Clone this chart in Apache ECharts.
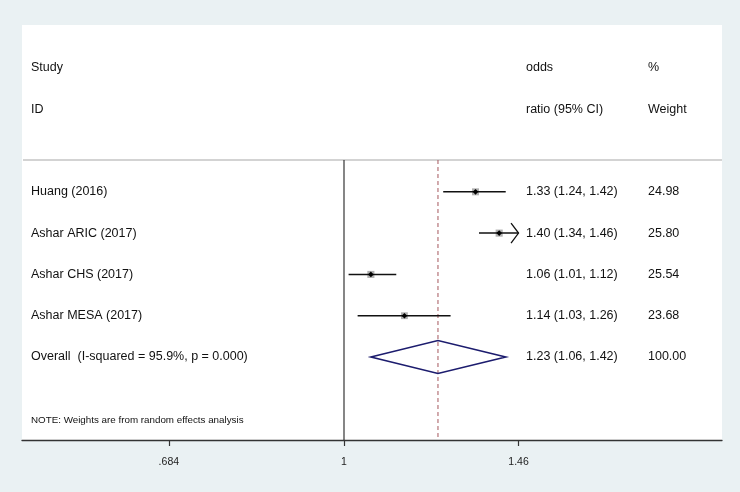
<!DOCTYPE html>
<html>
<head>
<meta charset="utf-8">
<script src="https://cdn.jsdelivr.net/npm/echarts@6/dist/echarts.min.js"></script>
<style>html,body{margin:0;padding:0;background:#eaf1f3;}#chart{width:740px;height:492px;}</style>
</head>
<body>
<div id="chart"></div>
<script>
// ---- data ----
const studies = ['Huang (2016)', 'Ashar ARIC (2017)', 'Ashar CHS (2017)', 'Ashar MESA (2017)'];
const oddsRatio = [1.33, 1.40, 1.06, 1.14];
const ciLow = [1.24, 1.34, 1.01, 1.03];
const ciHigh = [1.42, 1.46, 1.12, 1.26];
const weights = [24.98, 25.80, 25.54, 23.68];
const overallLabel = ['Overall  (I-squared = 95.9%, p = 0.000)'];
const overallOR = [1.226];
const overallLow = [1.06];
const overallHigh = [1.42];
const overallWeight = [100.00];
const headerCols = [['Study', 'ID'], ['odds', 'ratio (95% CI)'], ['%', 'Weight']];
const noteText = ['NOTE: Weights are from random effects analysis'];
const tickValues = [0.684, 1, 1.46];
const tickLabels = ['.684', '1', '1.46'];

// ---- layout ----
const FONT = '"Liberation Sans", Arial, Helvetica, sans-serif';
const colX = [31, 526, 648];
const pxPerLn = 461.2;
const nullPx = 344, gridL = 22, gridR = 722;
const LN_MIN = (gridL - nullPx) / pxPerLn;
const LN_MAX = (gridR - nullPx) / pxPerLn;
const tickLn = tickValues.map(v => Math.log(v));
const clipHi = Math.log(tickValues[tickValues.length - 1]);
const rowHeader1 = 1, rowHeader2 = 2, rowSep = 3.23, rowFirst = 4, rowNote = 9.54, rowBottom = 10.01;
const rowOverall = rowFirst + studies.length;

const chart = echarts.init(document.getElementById('chart'), null, {renderer: 'canvas'});

function txt(x, y, s, size) {
  return {type: 'text', style: {x: x, y: y, text: s, font: size + 'px ' + FONT, fill: '#111', align: 'left', verticalAlign: 'middle'}};
}

const option = {
  backgroundColor: '#eaf1f3',
  animation: false,
  grid: {left: gridL, right: 740 - gridR, top: 25, bottom: 52, show: true, backgroundColor: '#ffffff', borderWidth: 0},
  xAxis: {
    type: 'value', min: LN_MIN, max: LN_MAX,
    axisLine: {show: true, onZero: false, lineStyle: {color: '#333', width: 1.3}},
    axisTick: {show: true, length: 6, customValues: tickLn, lineStyle: {color: '#333', width: 1.2}},
    axisLabel: {
      customValues: tickLn, fontSize: 10.5, color: '#222', margin: 17, fontFamily: FONT,
      formatter: function (v) {
        let best = 0;
        tickLn.forEach((t, i) => { if (Math.abs(t - v) < Math.abs(tickLn[best] - v)) best = i; });
        return tickLabels[best];
      }
    },
    splitLine: {show: false}
  },
  yAxis: {type: 'value', inverse: true, min: -0.04, max: rowBottom, show: false},
  series: [
    // reference lines
    {
      type: 'custom', clip: false, data: [[0]],
      renderItem: function (params, api) {
        const ySep = api.coord([0, rowSep])[1];
        const yBot = api.coord([0, rowBottom])[1];
        const xNull = api.coord([0, 0])[0];
        const xOv = api.coord([Math.log(overallOR[0]), 0])[0];
        return {type: 'group', children: [
          {type: 'line', shape: {x1: gridL + 1, y1: ySep, x2: gridR, y2: ySep}, style: {stroke: '#c4c4c4', lineWidth: 1.5}},
          {type: 'line', shape: {x1: xNull, y1: ySep, x2: xNull, y2: yBot}, style: {stroke: '#222', lineWidth: 1.1}},
          {type: 'line', shape: {x1: xOv, y1: ySep, x2: xOv, y2: yBot}, style: {stroke: '#a5565c', lineWidth: 1, lineDash: [4, 3]}}
        ]};
      }
    },
    // study CIs
    {
      type: 'custom', clip: false, data: studies.map((s, i) => [i]),
      renderItem: function (params, api) {
        const i = api.value(0);
        const row = rowFirst + i;
        const lo = Math.log(ciLow[i]);
        let hi = Math.log(ciHigh[i]);
        const arrow = hi >= clipHi - 1e-9;
        if (arrow) hi = clipHi;
        const pLo = api.coord([lo, row]);
        const pHi = api.coord([hi, row]);
        const pt = api.coord([Math.log(oddsRatio[i]), row]);
        const box = 7 * Math.sqrt(weights[i] / 25);
        const ch = [
          {type: 'rect', shape: {x: pt[0] - box / 2, y: pt[1] - box / 2, width: box, height: box}, style: {fill: '#b0b0b0'}},
          {type: 'line', shape: {x1: pLo[0], y1: pLo[1], x2: pHi[0], y2: pHi[1]}, style: {stroke: '#111', lineWidth: 1.5}},
          {type: 'polygon', shape: {points: [[pt[0] - 2.8, pt[1]], [pt[0], pt[1] - 2.8], [pt[0] + 2.8, pt[1]], [pt[0], pt[1] + 2.8]]}, style: {fill: '#000'}}
        ];
        if (arrow) {
          ch.push({type: 'polyline', shape: {points: [[pHi[0] - 7.5, pHi[1] - 10], [pHi[0], pHi[1]], [pHi[0] - 7.5, pHi[1] + 10]]}, style: {stroke: '#111', lineWidth: 1.3, fill: null}});
        }
        return {type: 'group', children: ch};
      }
    },
    // overall diamond
    {
      type: 'custom', clip: false, data: [[0]],
      renderItem: function (params, api) {
        const l = api.coord([Math.log(overallLow[0]), rowOverall]);
        const c = api.coord([Math.log(overallOR[0]), rowOverall]);
        const r = api.coord([Math.log(overallHigh[0]), rowOverall]);
        const top = api.coord([0, rowOverall - 0.4])[1];
        const bot = api.coord([0, rowOverall + 0.4])[1];
        return {type: 'polygon', shape: {points: [[l[0], l[1]], [c[0], top], [r[0], r[1]], [c[0], bot]]},
          style: {stroke: '#1c1c6e', lineWidth: 1.6, fill: null}};
      }
    },
    // table text
    {
      type: 'custom', clip: false, data: [[0]],
      renderItem: function (params, api) {
        const y = r => api.coord([0, r])[1];
        const ch = [];
        headerCols.forEach((h, k) => {
          ch.push(txt(colX[k], y(rowHeader1), h[0], 12.5));
          ch.push(txt(colX[k], y(rowHeader2), h[1], 12.5));
        });
        studies.forEach((s, i) => {
          const yy = y(rowFirst + i);
          ch.push(txt(colX[0], yy, s, 12.5));
          ch.push(txt(colX[1], yy, oddsRatio[i].toFixed(2) + ' (' + ciLow[i].toFixed(2) + ', ' + ciHigh[i].toFixed(2) + ')', 12.5));
          ch.push(txt(colX[2], yy, weights[i].toFixed(2), 12.5));
        });
        const yo = y(rowOverall);
        ch.push(txt(colX[0], yo, overallLabel[0], 12.5));
        ch.push(txt(colX[1], yo, overallOR[0].toFixed(2) + ' (' + overallLow[0].toFixed(2) + ', ' + overallHigh[0].toFixed(2) + ')', 12.5));
        ch.push(txt(colX[2], yo, overallWeight[0].toFixed(2), 12.5));
        ch.push(txt(colX[0], y(rowNote), noteText[0], 9.8));
        return {type: 'group', children: ch};
      }
    }
  ]
};
chart.setOption(option);
</script>
</body>
</html>
